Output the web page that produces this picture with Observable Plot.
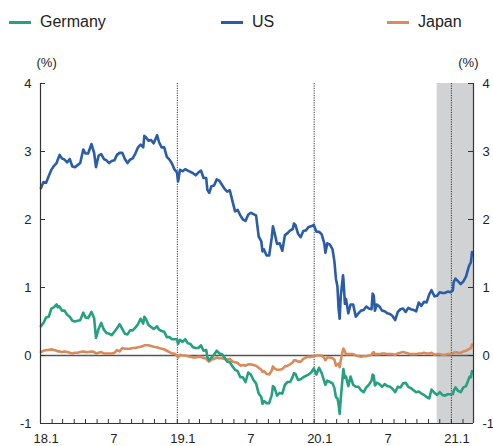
<!DOCTYPE html>
<html><head><meta charset="utf-8">
<script src="https://cdn.jsdelivr.net/npm/d3@7"></script>
<script src="https://cdn.jsdelivr.net/npm/@observablehq/plot@0.6"></script>
<style>
body{margin:0;background:#fff;font-family:"Liberation Sans",Arial,sans-serif;}
#wrap{position:relative;width:493px;height:446px;overflow:hidden;}
#legend{position:absolute;top:0;left:0;width:493px;height:40px;font-size:16px;color:#222;z-index:2;}
.item{position:absolute;top:13px;display:flex;align-items:center;line-height:18px;}
.sw{width:22px;height:3px;margin-right:9px;}
</style></head><body><div id="wrap"><div id="legend"></div></div>
<script>
const dates = [
 "2018-01-02","2018-01-09","2018-01-16","2018-01-23","2018-01-30","2018-02-06","2018-02-13","2018-02-16","2018-02-21","2018-02-27",
 "2018-03-06","2018-03-13","2018-03-20","2018-03-27","2018-04-03","2018-04-10","2018-04-17","2018-04-25","2018-05-01","2018-05-08",
 "2018-05-17","2018-05-24","2018-05-29","2018-06-05","2018-06-12","2018-06-19","2018-06-26","2018-07-03","2018-07-10","2018-07-17",
 "2018-07-24","2018-07-31","2018-08-07","2018-08-14","2018-08-21","2018-08-28","2018-09-04","2018-09-11","2018-09-18","2018-09-25",
 "2018-10-02","2018-10-05","2018-10-09","2018-10-16","2018-10-23","2018-10-30","2018-11-08","2018-11-13","2018-11-20","2018-11-27",
 "2018-12-04","2018-12-11","2018-12-18","2018-12-24","2018-12-31",
 "2019-01-03","2019-01-08","2019-01-15","2019-01-22","2019-01-29","2019-02-05","2019-02-12","2019-02-19","2019-02-26","2019-03-05",
 "2019-03-12","2019-03-19","2019-03-22","2019-03-27","2019-04-02","2019-04-09","2019-04-16","2019-04-23","2019-04-30","2019-05-07",
 "2019-05-14","2019-05-21","2019-05-28","2019-06-04","2019-06-11","2019-06-18","2019-06-25","2019-07-02","2019-07-09","2019-07-16",
 "2019-07-23","2019-07-30","2019-08-06","2019-08-13","2019-08-16","2019-08-20","2019-08-27","2019-09-03","2019-09-10","2019-09-13",
 "2019-09-17","2019-09-24","2019-10-01","2019-10-08","2019-10-15","2019-10-22","2019-10-29","2019-11-05","2019-11-08","2019-11-12",
 "2019-11-19","2019-11-26","2019-12-03","2019-12-10","2019-12-17","2019-12-24","2019-12-31",
 "2020-01-07","2020-01-14","2020-01-21","2020-01-28","2020-01-31","2020-02-05","2020-02-12","2020-02-19","2020-02-24","2020-02-28",
 "2020-03-03","2020-03-06","2020-03-09","2020-03-12","2020-03-18","2020-03-19","2020-03-23","2020-03-26","2020-04-01","2020-04-07",
 "2020-04-14","2020-04-21","2020-04-28","2020-05-05","2020-05-12","2020-05-19","2020-05-26","2020-06-02","2020-06-05","2020-06-08",
 "2020-06-11","2020-06-16","2020-06-23","2020-06-30","2020-07-07","2020-07-14","2020-07-21","2020-07-28","2020-08-04","2020-08-11",
 "2020-08-18","2020-08-25","2020-09-01","2020-09-08","2020-09-15","2020-09-22","2020-09-29","2020-10-06","2020-10-13","2020-10-20",
 "2020-10-27","2020-11-03","2020-11-09","2020-11-17","2020-11-24","2020-12-01","2020-12-08","2020-12-15","2020-12-22","2020-12-30",
 "2021-01-05","2021-01-07","2021-01-12","2021-01-19","2021-01-26","2021-02-02","2021-02-09","2021-02-16","2021-02-19","2021-02-22",
 "2021-02-25"
];
const germany = [
 0.43,0.48,0.56,0.57,0.69,0.71,0.75,0.71,0.72,0.66,
 0.66,0.60,0.57,0.51,0.50,0.51,0.52,0.63,0.56,0.55,
 0.64,0.55,0.26,0.39,0.48,0.38,0.33,0.32,0.30,0.35,
 0.40,0.46,0.39,0.32,0.31,0.37,0.37,0.41,0.46,0.54,
 0.47,0.57,0.54,0.45,0.42,0.39,0.43,0.38,0.36,0.35,
 0.27,0.27,0.24,0.24,0.24,
 0.17,0.23,0.20,0.24,0.18,0.17,0.12,0.11,0.11,0.15,
 0.07,0.08,-0.02,-0.07,-0.03,0.01,0.07,0.03,0.02,-0.03,
 -0.09,-0.10,-0.16,-0.21,-0.23,-0.32,-0.32,-0.39,-0.25,-0.28,
 -0.36,-0.41,-0.56,-0.61,-0.71,-0.67,-0.70,-0.70,-0.58,-0.45,
 -0.47,-0.59,-0.55,-0.56,-0.43,-0.39,-0.39,-0.31,-0.26,-0.27,
 -0.36,-0.35,-0.32,-0.30,-0.28,-0.25,-0.19,
 -0.28,-0.18,-0.26,-0.38,-0.43,-0.37,-0.39,-0.41,-0.48,-0.61,
 -0.63,-0.71,-0.86,-0.63,-0.25,-0.20,-0.33,-0.31,-0.45,-0.31,
 -0.43,-0.46,-0.46,-0.51,-0.54,-0.47,-0.43,-0.37,-0.28,-0.30,
 -0.44,-0.40,-0.42,-0.46,-0.42,-0.45,-0.46,-0.49,-0.54,-0.46,
 -0.47,-0.41,-0.40,-0.46,-0.48,-0.51,-0.54,-0.53,-0.56,-0.58,
 -0.61,-0.63,-0.50,-0.55,-0.58,-0.54,-0.58,-0.59,-0.57,-0.57,
 -0.57,-0.52,-0.47,-0.52,-0.54,-0.47,-0.45,-0.35,-0.31,-0.32,
 -0.23
];
const us = [
 2.46,2.55,2.54,2.64,2.73,2.79,2.83,2.88,2.95,2.90,
 2.88,2.84,2.89,2.78,2.77,2.80,2.83,3.03,2.97,2.97,
 3.11,2.98,2.77,2.94,2.96,2.89,2.87,2.83,2.86,2.87,
 2.95,2.98,2.98,2.89,2.83,2.88,2.90,2.97,3.06,3.10,
 3.06,3.23,3.21,3.16,3.17,3.12,3.24,3.14,3.06,3.06,
 2.92,2.88,2.82,2.74,2.69,
 2.56,2.73,2.71,2.74,2.72,2.70,2.68,2.65,2.69,2.72,
 2.61,2.61,2.44,2.39,2.49,2.50,2.59,2.57,2.51,2.45,
 2.41,2.43,2.27,2.12,2.14,2.06,2.00,1.98,2.07,2.10,
 2.08,2.06,1.75,1.68,1.53,1.56,1.47,1.47,1.74,1.90,
 1.81,1.64,1.65,1.54,1.77,1.80,1.84,1.86,1.94,1.92,
 1.79,1.74,1.83,1.84,1.89,1.90,1.92,
 1.82,1.82,1.78,1.65,1.51,1.65,1.63,1.56,1.38,1.13,
 1.02,0.70,0.54,0.88,1.18,1.12,0.76,0.83,0.62,0.75,
 0.75,0.57,0.62,0.66,0.67,0.72,0.69,0.68,0.91,0.88,
 0.66,0.75,0.72,0.66,0.65,0.62,0.61,0.58,0.52,0.64,
 0.68,0.69,0.64,0.70,0.68,0.67,0.65,0.78,0.73,0.79,
 0.78,0.90,0.96,0.87,0.88,0.93,0.92,0.92,0.94,0.93,
 0.96,1.08,1.13,1.09,1.05,1.09,1.16,1.30,1.34,1.37,
 1.52
];
const japan = [
 0.05,0.07,0.08,0.08,0.09,0.08,0.07,0.06,0.06,0.05,
 0.06,0.05,0.04,0.03,0.04,0.04,0.05,0.06,0.05,0.05,
 0.06,0.05,0.03,0.04,0.05,0.03,0.03,0.03,0.03,0.04,
 0.08,0.06,0.11,0.10,0.10,0.10,0.11,0.11,0.12,0.13,
 0.14,0.15,0.15,0.15,0.14,0.13,0.12,0.11,0.10,0.09,
 0.07,0.05,0.03,0.03,0.00,
 -0.03,0.01,0.00,0.00,-0.01,-0.02,-0.03,-0.03,-0.02,-0.02,
 -0.04,-0.04,-0.07,-0.09,-0.06,-0.05,-0.03,-0.04,-0.04,-0.05,
 -0.06,-0.05,-0.09,-0.10,-0.11,-0.15,-0.14,-0.15,-0.13,-0.13,
 -0.14,-0.15,-0.18,-0.21,-0.24,-0.23,-0.27,-0.28,-0.22,-0.16,
 -0.19,-0.21,-0.21,-0.20,-0.16,-0.15,-0.13,-0.10,-0.07,-0.07,
 -0.09,-0.09,-0.05,-0.03,-0.02,-0.02,-0.01,
 0.00,0.00,0.00,-0.04,-0.07,-0.03,-0.03,-0.04,-0.06,-0.15,
 -0.13,-0.12,-0.17,-0.07,0.09,0.10,0.06,0.02,0.02,0.02,
 0.02,0.00,-0.01,-0.02,-0.01,-0.01,0.00,0.01,0.04,0.05,
 0.02,0.02,0.02,0.03,0.03,0.02,0.02,0.02,0.01,0.03,
 0.04,0.05,0.04,0.03,0.02,0.02,0.02,0.03,0.03,0.04,
 0.03,0.03,0.04,0.01,0.02,0.02,0.01,0.01,0.02,0.02,
 0.03,0.04,0.05,0.04,0.04,0.06,0.07,0.09,0.10,0.11,
 0.16
];
const seriesNames = ["Germany", "US", "Japan"];
const seriesColors = ["#26a080", "#2a5ca8", "#d88b5c"];
const drawOrder = ["Japan", "Germany", "US"];
const yTicks = [-1, 0, 1, 2, 3, 4];
const xLabelDates = ["2018-01-16","2018-07-16","2019-01-16","2019-07-16","2020-01-16","2020-07-16","2021-01-16"];
const xLabels = ["18.1", "7", "19.1", "7", "20.1", "7", "21.1"];
const yearLines = ["2019-01-01", "2020-01-01", "2021-01-01"];
const xStart = "2018-01-01", xEnd = "2021-03-01";
const shadeStart = "2020-11-24", shadeEnd = "2021-03-01";

if (dates.length !== germany.length || dates.length !== us.length || dates.length !== japan.length)
  throw new Error("length mismatch " + dates.length + " " + germany.length + " " + us.length + " " + japan.length);

const valuesBy = {Germany: germany, US: us, Japan: japan};
const rows = [];
for (const name of drawOrder) {
  dates.forEach((d, i) => rows.push({date: new Date(d), value: valuesBy[name][i], series: name}));
}
const xDomain = [new Date(xStart), new Date(xEnd)];
const months = d3.utcMonth.range(new Date(xStart), new Date("2021-03-02"));

const W = 493, H = 446, mL = 40, mR = 20, mT = 83, mB = 23;
const pw = W - mL - mR, ph = H - mT - mB;
const axisColor = "#333";

const chart = Plot.plot({
  width: W, height: H,
  marginLeft: mL, marginRight: mR, marginTop: mT, marginBottom: mB,
  style: {fontFamily: "'Liberation Sans', Arial, sans-serif", fontSize: "13px", color: "#222", background: "white", overflow: "visible"},
  x: {type: "utc", domain: xDomain, label: null},
  y: {domain: [-1, 4], label: null},
  color: {domain: seriesNames, range: seriesColors},
  marks: [
    Plot.rectX([{s: new Date(shadeStart), e: new Date(shadeEnd)}], {x1: "s", x2: "e", fill: "#d1d2d4"}),
    Plot.ruleX(yearLines.map(d => new Date(d)), {stroke: "#333", strokeWidth: 1, strokeDasharray: "1.2,1.2"}),
    Plot.ruleY([0], {stroke: "#555", strokeWidth: 1.3}),
    Plot.line(rows, {x: "date", y: "value", stroke: "series", z: "series", strokeWidth: 2.6, strokeLinejoin: "round"}),
    // axis lines
    Plot.ruleX(xDomain, {stroke: axisColor, strokeWidth: 1.2}),
    Plot.ruleY([-1], {stroke: axisColor, strokeWidth: 1.2}),
    // inward ticks
    Plot.tickY(yTicks, {y: d => d, insetRight: pw - 5, stroke: axisColor}),
    Plot.tickY(yTicks, {y: d => d, insetLeft: pw - 5, stroke: axisColor}),
    Plot.tickX(months, {x: d => d, insetTop: ph - 4, stroke: axisColor}),
    // tick labels
    Plot.axisY({anchor: "left", ticks: yTicks, tickSize: 0, tickPadding: 9, tickFormat: d => String(d), label: null}),
    Plot.axisY({anchor: "right", ticks: yTicks, tickSize: 0, tickPadding: 9, tickFormat: d => String(d), label: null}),
    Plot.axisX({anchor: "bottom", ticks: xLabelDates.map(d => new Date(d)), tickSize: 0, tickPadding: 10, tickFormat: (d, i) => xLabels[i], label: null}),
    // unit labels
    Plot.text(["(%)"], {frameAnchor: "top-left", text: d => d, dx: -4, dy: -26, textAnchor: "start", fontSize: 13}),
    Plot.text(["(%)"], {frameAnchor: "top-right", text: d => d, dx: 5, dy: -26, textAnchor: "end", fontSize: 13})
  ]
});
document.getElementById("wrap").appendChild(chart);

const legend = document.getElementById("legend");
const legendLeft = [9, 221, 387];
seriesNames.forEach((name, i) => {
  const it = document.createElement("div");
  it.className = "item";
  it.style.left = legendLeft[i] + "px";
  it.innerHTML = `<span class="sw" style="background:${seriesColors[i]}"></span><span>${name}</span>`;
  legend.appendChild(it);
});
</script>
</body></html>
